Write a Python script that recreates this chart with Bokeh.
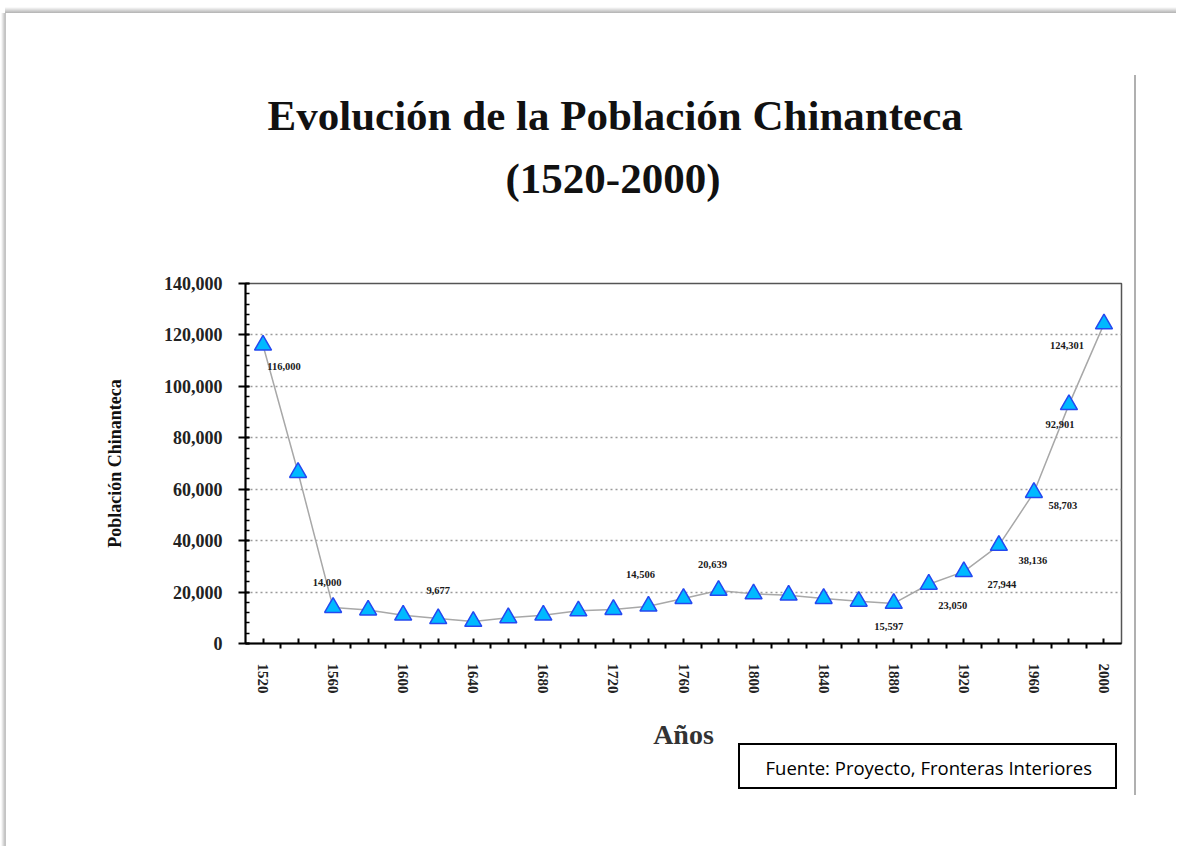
import math
from bokeh.plotting import figure
from bokeh.models import (ColumnDataSource, Range1d, FixedTicker, SingleIntervalTicker,
                          NumeralTickFormatter, Title)
from bokeh.embed import file_html
from bokeh.resources import INLINE
from bokeh.core.properties import value

# ---------------- data ----------------
years = [1520, 1540, 1560, 1580, 1600, 1620, 1640, 1660, 1680, 1700, 1720, 1740, 1760,
         1780, 1800, 1820, 1840, 1860, 1880, 1900, 1920, 1940, 1960, 1980, 2000]
population = [116000, 66500, 14000, 13000, 11000, 9677, 8600, 10000, 11000, 12700, 13200,
              14506, 17500, 20639, 19300, 18800, 17500, 16400, 15597, 23050, 27944, 38136,
              58703, 92901, 124301]

label_years = [1520, 1560, 1620, 1740, 1780, 1880, 1900, 1920, 1940, 1960, 1980, 2000]
label_texts = ["116,000", "14,000", "9,677", "14,506", "20,639", "15,597", "23,050",
               "27,944", "38,136", "58,703", "92,901", "124,301"]

x_tick_years = years
x_label_years = [1520, 1560, 1600, 1640, 1680, 1720, 1760, 1800, 1840, 1880, 1920, 1960, 2000]
boundary_years = [1530, 1550, 1570, 1590, 1610, 1630, 1650, 1670, 1690, 1710, 1730, 1750,
                  1770, 1790, 1810, 1830, 1850, 1870, 1890, 1910, 1930, 1950, 1970, 1990]

title_line1 = "Evolución de la Población Chinanteca"
title_line2 = "(1520-2000)"
y_title = "Población Chinanteca"
x_title = "Años"
source_text = "Fuente: Proyecto, Fronteras Interiores"

# label pixel offsets (style)
label_dx = [21, -6, 0, -8, -6, -5, 24, 38, 34, 29, -9, -37]
label_dy = [21, -25, -28, -32, -26, 23, 21, 13, 15, 13, 20, 22]

SERIF = "Liberation Serif"
W, H = 1176, 846

p = figure(width=W, height=H, output_backend="svg", toolbar_location=None,
           x_range=Range1d(1510, 2010), y_range=Range1d(0, 140000),
           min_border_left=245, min_border_right=W - 1121, min_border_top=283,
           min_border_bottom=H - 643, background_fill_color="white",
           border_fill_color=None)
p.title.visible = False

# page decoration (outer sheet edge, right rule, source box border) via CSS
layers = [
    ("linear-gradient(#b0b0b0,#b0b0b0)", "2px 720px", "1134px 75px"),
    ("linear-gradient(#000,#000)", "378px 2px", "738px 743px"),
    ("linear-gradient(#000,#000)", "378px 2px", "738px 787px"),
    ("linear-gradient(#000,#000)", "2px 46px", "738px 743px"),
    ("linear-gradient(#000,#000)", "2px 46px", "1115px 743px"),
    ("linear-gradient(to bottom, rgba(0,0,0,0), rgba(0,0,0,0.30))", "1180px 6px", "5px 7px"),
    ("linear-gradient(to right, rgba(0,0,0,0), rgba(0,0,0,0.25))", "4px 840px", "1px 13px"),
    ("linear-gradient(#c4c4c4,#c4c4c4)", "1px 840px", "5px 13px"),
]
p.styles = {
    "background-color": "white",
    "background-image": ", ".join(l[0] for l in layers),
    "background-size": ", ".join(l[1] for l in layers),
    "background-position": ", ".join(l[2] for l in layers),
    "background-repeat": "no-repeat",
}

p.outline_line_color = "#555555"
p.outline_line_width = 1.5

# grid
p.xgrid.visible = False
p.ygrid.ticker = SingleIntervalTicker(interval=20000, num_minor_ticks=5)
p.ygrid.grid_line_color = "#9a9a9a"
p.ygrid.grid_line_dash = "2 3"
p.ygrid.grid_line_width = 1.5

# y axis
ya = p.yaxis[0]
ya.ticker = SingleIntervalTicker(interval=20000, num_minor_ticks=5)
ya.formatter = NumeralTickFormatter(format="0,0")
ya.axis_line_color = "black"
ya.axis_line_width = 2
ya.major_tick_in = 4
ya.major_tick_out = 7
ya.major_tick_line_color = "black"
ya.major_tick_line_width = 2
ya.minor_tick_in = 4
ya.minor_tick_out = 0
ya.minor_tick_line_color = "black"
ya.minor_tick_line_width = 1.5
ya.major_label_text_font = SERIF
ya.major_label_text_font_style = "bold"
ya.major_label_text_font_size = "18px"
ya.major_label_text_color = "#222222"
ya.major_label_standoff = 16
ya.axis_label = y_title
ya.axis_label_text_font = SERIF
ya.axis_label_text_font_style = "bold"
ya.axis_label_text_font_size = "18px"
ya.axis_label_text_color = "#111111"
ya.axis_label_standoff = 36

# x axis
xa = p.xaxis[0]
xa.ticker = FixedTicker(ticks=x_tick_years, minor_ticks=boundary_years)
xa.major_label_overrides = {y: (str(y) if y in x_label_years else "") for y in x_tick_years}
xa.axis_line_color = "black"
xa.axis_line_width = 2
xa.major_tick_in = 5
xa.major_tick_out = 0
xa.major_tick_line_color = "black"
xa.major_tick_line_width = 2
xa.minor_tick_in = 0
xa.minor_tick_out = 5
xa.minor_tick_line_color = "black"
xa.minor_tick_line_width = 2
xa.major_label_orientation = -math.pi / 2
xa.major_label_text_font = SERIF
xa.major_label_text_font_style = "bold"
xa.major_label_text_font_size = "15px"
xa.major_label_text_color = "#222222"
xa.major_label_standoff = 15
xa.axis_label = x_title
xa.axis_label_text_font = SERIF
xa.axis_label_text_font_style = "bold"
xa.axis_label_text_font_size = "28px"
xa.axis_label_text_color = "#333333"
xa.axis_label_standoff = 22

# series
p.line(years, population, line_color="#a8a8a8", line_width=1.5)
p.scatter(years, population, marker="triangle", size=17, fill_color="#00b9ff",
          line_color="#2448f0", line_width=1.5)

lab_vals = [population[years.index(y)] for y in label_years]
lsrc = ColumnDataSource(dict(x=label_years, y=lab_vals, t=label_texts,
                             dx=label_dx, dy=label_dy))
p.text(x="x", y="y", text="t", x_offset="dx", y_offset="dy", source=lsrc,
       text_font=value(SERIF), text_font_style="bold", text_font_size="10.5px",
       text_color="#1a1a1a", text_align="center", text_baseline="middle")

# titles: spacer next to the plot, then line 2, then line 1 (outermost)
p.add_layout(Title(text=" ", text_font_size="2px", standoff=78), "above")
p.add_layout(Title(text=title_line2, text_font=SERIF, text_font_style="bold",
                   text_font_size="43px", text_color="#111111", align="left",
                   offset=260, standoff=0), "above")
p.add_layout(Title(text=title_line1, text_font=SERIF, text_font_style="bold",
                   text_font_size="43px", text_color="#111111", align="left",
                   offset=22, standoff=27), "above")

# source note below the axis title
p.add_layout(Title(text=source_text, text_font="Open Sans", text_font_style="normal",
                   text_font_size="18.5px", text_color="black", align="left",
                   offset=520, standoff=0), "below")

open("out.html", "w").write(file_html(p, INLINE))
